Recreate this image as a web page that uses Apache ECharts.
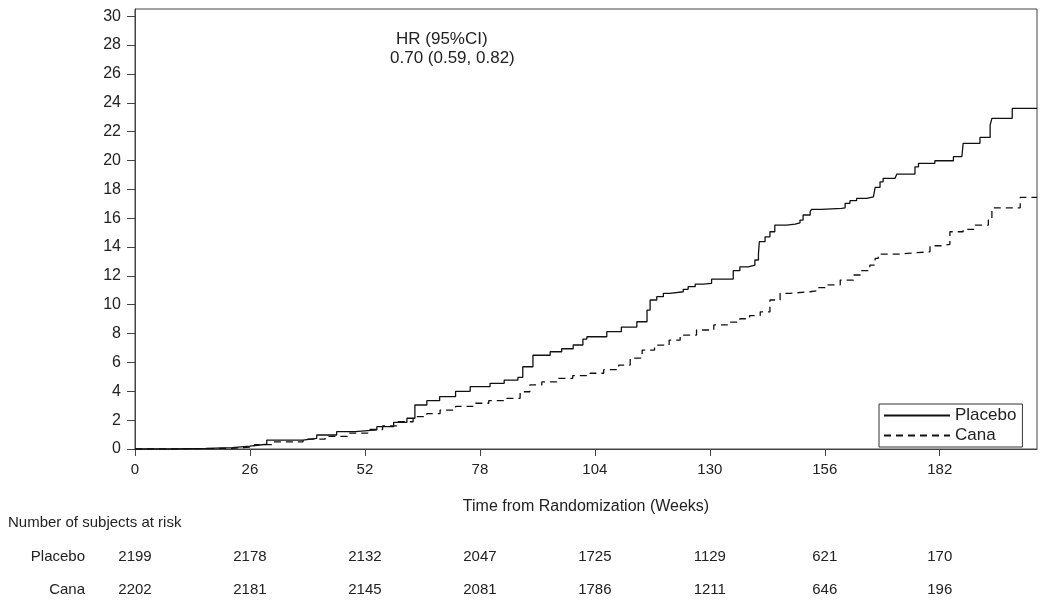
<!DOCTYPE html>
<html><head><meta charset="utf-8">
<script src="https://cdn.jsdelivr.net/npm/echarts@6/dist/echarts.min.js"></script>
<style>html,body{margin:0;padding:0;background:#fff}#c{width:1042px;height:604px}</style>
</head><body><div id="c"></div>
<script>
// ---- data ----
const tickWeeks = [0, 26, 52, 78, 104, 130, 156, 182];
const tickLabels = ['0', '26', '52', '78', '104', '130', '156', '182'];
const yTicks = [0, 2, 4, 6, 8, 10, 12, 14, 16, 18, 20, 22, 24, 26, 28, 30];
const seriesNames = ['Placebo', 'Cana'];

const placeboWeeks = [0, 8, 16, 22, 26.0, 29.8, 38.0, 41.1, 45.6, 49.8, 54.7, 58.5, 61.5, 63.3, 66.0, 68.9, 72.5, 75.8, 80.3, 83.5, 86.6, 87.7, 90.0, 93.9, 96.5, 99.1, 101.3, 102.2, 106.7, 110.0, 113.5, 115.8, 116.5, 118.0, 119.5, 121.0, 124.0, 125.1, 126.7, 128.5, 130.4, 135.3, 136.8, 138.7, 140.2, 141.0, 141.2, 142.5, 143.6, 144.7, 147.4, 149.3, 150.4, 151.1, 152.7, 153.0, 155.3, 159.8, 160.6, 161.7, 163.2, 165.5, 167.0, 167.4, 168.5, 169.2, 171.9, 172.3, 176.4, 177.2, 180.9, 185.1, 187.0, 187.3, 191.1, 193.4, 193.8, 198.4, 204];
const placeboPct = [0, 0.05, 0.1, 0.2, 0.33, 0.62, 0.74, 0.97, 1.20, 1.32, 1.55, 1.85, 2.13, 3.05, 3.35, 3.63, 4.0, 4.32, 4.55, 4.78, 4.97, 5.7, 6.5, 6.74, 6.95, 7.21, 7.62, 7.78, 8.13, 8.45, 8.82, 9.63, 10.33, 10.56, 10.79, 10.90, 11.07, 11.25, 11.43, 11.48, 11.78, 12.36, 12.63, 12.75, 13.10, 13.51, 14.37, 14.71, 15.06, 15.52, 15.59, 15.68, 15.87, 16.22, 16.45, 16.61, 16.68, 16.72, 17.03, 17.21, 17.37, 17.48, 17.60, 18.14, 18.52, 18.76, 18.87, 19.06, 19.56, 19.80, 19.98, 20.26, 20.37, 21.19, 21.60, 22.45, 22.92, 23.61, 23.61];

const canaWeeks = [0, 10, 22, 27, 31, 38, 43, 48, 53, 56, 59.2, 62.9, 66.0, 69.0, 72.5, 76.4, 80.0, 84.1, 87.1, 89.3, 92.0, 95.4, 99.0, 102.9, 106.0, 109.4, 112.0, 114.7, 117.5, 120.8, 123.3, 127.0, 130.9, 134.0, 136.8, 139.0, 141.4, 143.6, 145.9, 148.1, 152.7, 154.2, 156.4, 159.5, 162.5, 164.0, 166.2, 167.4, 168.1, 173.0, 174.5, 179.8, 182.4, 184.3, 187.3, 190.0, 193.0, 193.8, 200.2, 204];
const canaPct = [0, 0.05, 0.15, 0.3, 0.5, 0.68, 0.88, 1.1, 1.35, 1.6, 1.89, 2.24, 2.45, 2.70, 2.95, 3.17, 3.35, 3.51, 3.97, 4.44, 4.65, 4.90, 5.08, 5.25, 5.5, 5.82, 6.3, 6.86, 7.2, 7.55, 7.9, 8.25, 8.6, 8.8, 9.03, 9.25, 9.5, 10.33, 10.79, 10.90, 10.97, 11.18, 11.37, 11.71, 12.06, 12.36, 12.75, 13.22, 13.51, 13.56, 13.67, 14.09, 14.18, 15.06, 15.23, 15.52, 15.87, 16.72, 17.44, 17.44];

const placeboAtRisk = [2199, 2178, 2132, 2047, 1725, 1129, 621, 170];
const canaAtRisk = [2202, 2181, 2145, 2081, 1786, 1211, 646, 196];

const hrTitle = 'HR (95%CI)';
const hrValue = '0.70 (0.59, 0.82)';
const xAxisTitle = 'Time from Randomization (Weeks)';
const riskTitle = 'Number of subjects at risk';

// ---- chart ----
const FONT = '"Liberation Sans", Arial, sans-serif';
const AX = '#444';
const TXT = '#222';
const labelAt = arr => v => { const i = tickWeeks.indexOf(v); return i >= 0 ? String(arr[i]) : ''; };
const riskAxis = (offset, arr) => ({
  type: 'value', gridIndex: 0, position: 'bottom', offset: offset,
  min: 0, max: 204, interval: 26,
  axisLine: { show: false }, axisTick: { show: false }, splitLine: { show: false },
  axisLabel: { customValues: tickWeeks, formatter: labelAt(arr), margin: 8, fontSize: 15, color: TXT, fontFamily: FONT }
});

const chart = echarts.init(document.getElementById('c'), null, { renderer: 'canvas' });
chart.setOption({
  animation: false,
  textStyle: { fontFamily: FONT },
  grid: { left: 135, right: 5, top: 9, bottom: 155, show: true, borderColor: AX, borderWidth: 1, backgroundColor: 'transparent' },
  xAxis: [
    {
      type: 'value', min: 0, max: 204, interval: 26,
      axisLine: { onZero: false, lineStyle: { color: AX, width: 1 } },
      axisTick: { customValues: tickWeeks, length: 7, lineStyle: { color: AX } },
      axisLabel: { customValues: tickWeeks, formatter: labelAt(tickLabels), margin: 13, fontSize: 15, color: TXT, fontFamily: FONT },
      splitLine: { show: false },
      name: xAxisTitle, nameLocation: 'middle', nameGap: 50,
      nameTextStyle: { fontSize: 16, color: TXT, fontFamily: FONT }
    },
    riskAxis(92, placeboAtRisk),
    riskAxis(125, canaAtRisk)
  ],
  yAxis: {
    type: 'value', min: 0, max: 30.5, interval: 2,
    axisLine: { show: true, lineStyle: { color: AX, width: 1 } },
    axisTick: { show: true, customValues: yTicks, length: 8, lineStyle: { color: AX } },
    axisLabel: { customValues: yTicks, margin: 14, fontSize: 16, color: TXT, fontFamily: FONT },
    splitLine: { show: false }
  },
  legend: {
    data: seriesNames, orient: 'vertical', left: 879, top: 404,
    itemWidth: 66, itemHeight: 14, itemGap: 3,
    borderColor: '#333', borderWidth: 1, padding: [3, 6, 3, 4],
    itemStyle: { opacity: 0 },
    textStyle: { fontSize: 17, color: TXT, fontFamily: FONT },
    selectedMode: false
  },
  series: [
    {
      name: seriesNames[0], type: 'line', step: 'end', symbol: 'none', silent: true,
      data: placeboWeeks.map((w, i) => [w, placeboPct[i]]),
      lineStyle: { color: '#111', width: 1.3, type: 'solid' }, itemStyle: { color: '#111' }
    },
    {
      name: seriesNames[1], type: 'line', step: 'end', symbol: 'none', silent: true,
      data: canaWeeks.map((w, i) => [w, canaPct[i]]),
      lineStyle: { color: '#111', width: 1.3, type: [7, 5] }, itemStyle: { color: '#111' }
    }
  ],
  graphic: [
    { type: 'text', left: 396, top: 31, style: { text: hrTitle, font: '17px ' + FONT, fill: TXT } },
    { type: 'text', left: 390, top: 50, style: { text: hrValue, font: '17px ' + FONT, fill: TXT } },
    { type: 'text', left: 8, top: 515, style: { text: riskTitle, font: '15px ' + FONT, fill: TXT } },
    { type: 'text', style: { x: 85, y: 557, text: seriesNames[0], textAlign: 'right', textVerticalAlign: 'middle', font: '15px ' + FONT, fill: TXT } },
    { type: 'text', style: { x: 85, y: 590, text: seriesNames[1], textAlign: 'right', textVerticalAlign: 'middle', font: '15px ' + FONT, fill: TXT } }
  ]
});
</script>
</body></html>
